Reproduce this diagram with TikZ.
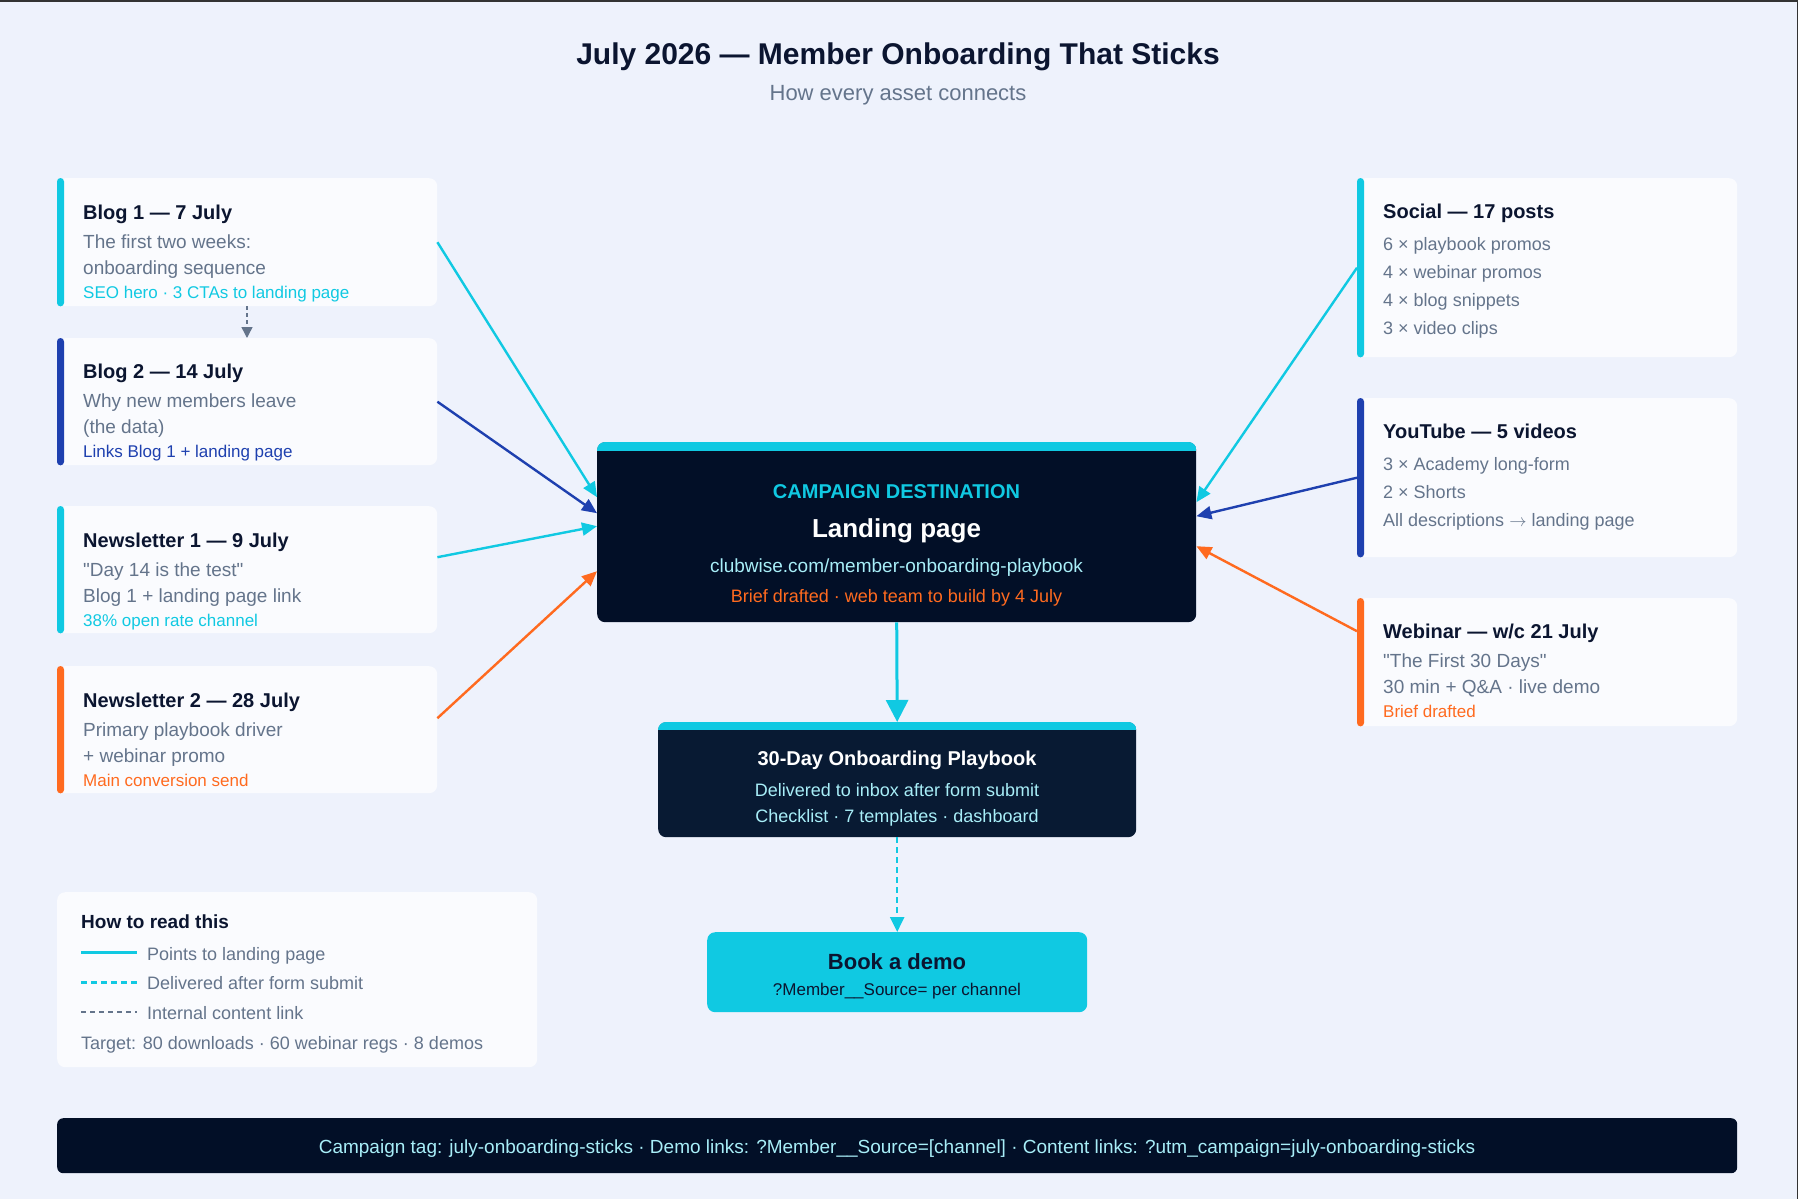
\documentclass[tikz,border=0pt]{standalone}
\usepackage{fontspec}
\setmainfont{Liberation Sans}[Ligatures=TeXOff]
\usetikzlibrary{arrows.meta,positioning,calc}
\definecolor{cBg}{HTML}{EEF2FC}
\definecolor{cCard}{HTML}{FAFBFE}
\definecolor{cNavy}{HTML}{020F27}
\definecolor{cDeep}{HTML}{081A33}
\definecolor{cInk}{HTML}{0B1530}
\definecolor{cCyan}{HTML}{10C9E2}
\definecolor{cBlue}{HTML}{1E40AF}
\definecolor{cOrange}{HTML}{FF6A1F}
\definecolor{cGray}{HTML}{64748B}
\definecolor{cIce}{HTML}{A8EEF8}
\definecolor{cEdge}{HTML}{333333}
\newcommand{\fsz}[2]{\fontsize{#1}{#2}\selectfont}
\newcommand{\cardhead}[1]{{\fsz{20}{24}\bfseries\color{cInk}#1}}
\newcommand{\cardnote}[2]{{\fsz{17}{20}\color{#1}#2}}
\tikzset{
  card/.style={fill=cCard,rounded corners=8pt,inner sep=0pt,anchor=north west},
  cardtxt/.style={anchor=base west,align=left,inner sep=0pt,text=cGray,font=\fsz{19}{26.5}},
  listtxt/.style={anchor=base west,align=left,inner sep=0pt,text=cGray,font=\fsz{18}{28}},
  hub/.style={fill=#1,rounded corners=8pt,inner sep=0pt,anchor=north west},
  mid/.style={anchor=base,inner sep=0pt},
  link/.style={-{Triangle[length=15pt,width=13pt]},line width=2.4pt,color=#1},
}

\begin{document}
\begin{tikzpicture}[x=1pt,y=-1pt]
  \useasboundingbox (0,0) rectangle (1798,1199);
  \fill[cBg] (0,0) rectangle (1798,1199);
  \fill[cEdge] (0,0) rectangle (1798,2);
  \fill[cEdge] (1796.5,0) rectangle (1798,1199);

  \node[mid,font=\fsz{30}{36}\bfseries,text=cInk] (ttl) at (898,65) {July 2026 — Member Onboarding That Sticks};
  \node[mid,font=\fsz{22}{26},text=cGray] (sub) at (898,100) {How every asset connects};

  % left column
  \node[card,minimum width=380pt,minimum height=128pt] (blogA) at (57,178) {};
  \fill[cCyan,rounded corners=3.5pt] (blogA.north west) rectangle ([xshift=7pt]blogA.south west);
  \node[cardtxt] (blogAt) at ([xshift=26pt,yshift=-120pt]blogA.north west)
    {\cardhead{Blog 1 — 7 July}\\[2.5pt]The first two weeks:\\onboarding sequence\\[-3pt]\cardnote{cCyan}{SEO hero · 3 CTAs to landing page}};

  \node[card,minimum width=380pt,minimum height=127pt] (blogB) at (57,338) {};
  \fill[cBlue,rounded corners=3.5pt] (blogB.north west) rectangle ([xshift=7pt]blogB.south west);
  \node[cardtxt] (blogBt) at ([xshift=26pt,yshift=-119pt]blogB.north west)
    {\cardhead{Blog 2 — 14 July}\\[2.5pt]Why new members leave\\(the data)\\[-3pt]\cardnote{cBlue}{Links Blog 1 + landing page}};

  \node[card,minimum width=380pt,minimum height=127pt] (newsA) at (57,506) {};
  \fill[cCyan,rounded corners=3.5pt] (newsA.north west) rectangle ([xshift=7pt]newsA.south west);
  \node[cardtxt] (newsAt) at ([xshift=26pt,yshift=-120pt]newsA.north west)
    {\cardhead{Newsletter 1 — 9 July}\\[2.5pt]"Day 14 is the test"\\Blog 1 + landing page link\\[-3pt]\cardnote{cCyan}{38\% open rate channel}};

  \node[card,minimum width=380pt,minimum height=127pt] (newsB) at (57,666) {};
  \fill[cOrange,rounded corners=3.5pt] (newsB.north west) rectangle ([xshift=7pt]newsB.south west);
  \node[cardtxt] (newsBt) at ([xshift=26pt,yshift=-120pt]newsB.north west)
    {\cardhead{Newsletter 2 — 28 July}\\[2.5pt]Primary playbook driver\\+ webinar promo\\[-3pt]\cardnote{cOrange}{Main conversion send}};

  % right column
  \node[card,minimum width=380pt,minimum height=179pt] (social) at (1357,178) {};
  \fill[cCyan,rounded corners=3.5pt] (social.north west) rectangle ([xshift=7pt]social.south west);
  \node[listtxt] (socialt) at ([xshift=26pt,yshift=-156pt]social.north west)
    {\cardhead{Social — 17 posts}\\[4pt]6 × playbook promos\\4 × webinar promos\\4 × blog snippets\\3 × video clips};

  \node[card,minimum width=380pt,minimum height=159pt] (tube) at (1357,398) {};
  \fill[cBlue,rounded corners=3.5pt] (tube.north west) rectangle ([xshift=7pt]tube.south west);
  \node[listtxt] (tubet) at ([xshift=26pt,yshift=-128pt]tube.north west)
    {\cardhead{YouTube — 5 videos}\\[4pt]3 × Academy long-form\\2 × Shorts\\All descriptions $\rightarrow$ landing page};

  \node[card,minimum width=380pt,minimum height=128pt] (webinar) at (1357,598) {};
  \fill[cOrange,rounded corners=3.5pt] (webinar.north west) rectangle ([xshift=7pt]webinar.south west);
  \node[cardtxt] (webinart) at ([xshift=26pt,yshift=-119pt]webinar.north west)
    {\cardhead{Webinar — w/c 21 July}\\[2.5pt]"The First 30 Days"\\30 min + Q\&A · live demo\\[-3pt]\cardnote{cOrange}{Brief drafted}};

  % centre
  \node[hub=cNavy,minimum width=599pt,minimum height=180pt] (land) at (597,442) {};
  \begin{scope}
    \clip[rounded corners=8pt] (land.north west) rectangle (land.south east);
    \fill[cCyan] (land.north west) rectangle ([yshift=-9pt]land.north east);
  \end{scope}
  \node[mid,font=\fsz{20}{24}\bfseries,text=cCyan] (landK) at (896.5,498) {CAMPAIGN DESTINATION};
  \node[mid,font=\fsz{26}{30}\bfseries,text=white] (landT) at (896.5,537) {Landing page};
  \node[mid,font=\fsz{19}{23},text=cIce] (landU) at (896.5,572) {clubwise.com/member-onboarding-playbook};
  \node[mid,font=\fsz{18}{22},text=cOrange] (landS) at (896.5,602) {Brief drafted · web team to build by 4 July};

  \node[hub=cDeep,minimum width=478pt,minimum height=115pt] (play) at (658,722) {};
  \begin{scope}
    \clip[rounded corners=8pt] (play.north west) rectangle (play.south east);
    \fill[cCyan] (play.north west) rectangle ([yshift=-8pt]play.north east);
  \end{scope}
  \node[mid,font=\fsz{20}{24}\bfseries,text=white] (playT) at (897,765) {30-Day Onboarding Playbook};
  \node[mid,font=\fsz{18}{22},text=cIce] (playA) at (897,796) {Delivered to inbox after form submit};
  \node[mid,font=\fsz{18}{22},text=cIce] (playB) at (897,822) {Checklist · 7 templates · dashboard};

  \node[hub=cCyan,minimum width=380pt,minimum height=80pt] (demo) at (707,932) {};
  \node[mid,font=\fsz{22}{26}\bfseries,text=cInk] (demoT) at (897,969) {Book a demo};
  \node[mid,font=\fsz{17}{20},text=cInk] (demoS) at (897,995) {?Member\_\_Source= per channel};

  % connectors
  \draw[link=cCyan] (blogA.east) -- ([yshift=35pt]land.west);
  \draw[link=cBlue] (blogB.east) -- ([yshift=19pt]land.west);
  \draw[link=cCyan] ([yshift=12.5pt]newsA.east) -- ([yshift=6pt]land.west);
  \draw[link=cOrange] ([yshift=11.5pt]newsB.east) -- ([yshift=-39pt]land.west);
  \draw[link=cCyan] (social.west) -- ([yshift=30pt]land.east);
  \draw[link=cBlue] (tube.west) -- ([yshift=16pt]land.east);
  \draw[link=cOrange] ([yshift=31pt]webinar.west) -- ([yshift=-14pt]land.east);
  \draw[-{Triangle[length=22pt,width=22pt]},line width=3pt,cCyan] (land.south) -- (play.north);
  \draw[-{Triangle[length=15pt,width=14pt]},line width=2.5pt,cCyan,dash pattern=on 6pt off 4pt] (play.south) -- (demo.north);
  \draw[-{Triangle[length=11pt,width=11pt]},line width=1.5pt,cGray,dash pattern=on 4pt off 3pt]
    ($(blogA.south west)+(190,0)$) -- ($(blogB.north west)+(190,0)$);

  % legend
  \node[card,minimum width=480pt,minimum height=175pt] (key) at (57,892) {};
  \node[anchor=base west,inner sep=0pt,font=\fsz{19}{23}\bfseries,text=cInk] (keyT) at (81,928) {How to read this};
  \draw[cCyan,line width=3pt] (81,952) -- (137,952);
  \draw[cCyan,line width=3pt,dash pattern=on 6pt off 4pt] (81,982) -- (137,982);
  \draw[cGray,line width=1.5pt,dash pattern=on 5pt off 4pt] (81,1012) -- (137,1012);
  \node[anchor=base west,inner sep=0pt,font=\fsz{18}{22},text=cGray] (keyA) at (147,960) {Points to landing page};
  \node[anchor=base west,inner sep=0pt,font=\fsz{18}{22},text=cGray] (keyB) at (147,989) {Delivered after form submit};
  \node[anchor=base west,inner sep=0pt,font=\fsz{18}{22},text=cGray] (keyC) at (147,1019) {Internal content link};
  \node[anchor=base west,inner sep=0pt,font=\fsz{18}{22},text=cGray] (keyD) at (81,1049) {Target: 80 downloads · 60 webinar regs · 8 demos};

  % footer
  \node[hub=cNavy,rounded corners=6pt,minimum width=1680pt,minimum height=55pt] (foot) at (57,1118) {};
  \node[mid,font=\fsz{19}{23},text=cIce] (footT) at (897,1153) {Campaign tag: july-onboarding-sticks · Demo links: ?Member\_\_Source=[channel] · Content links: ?utm\_campaign=july-onboarding-sticks};
\end{tikzpicture}
\end{document}
